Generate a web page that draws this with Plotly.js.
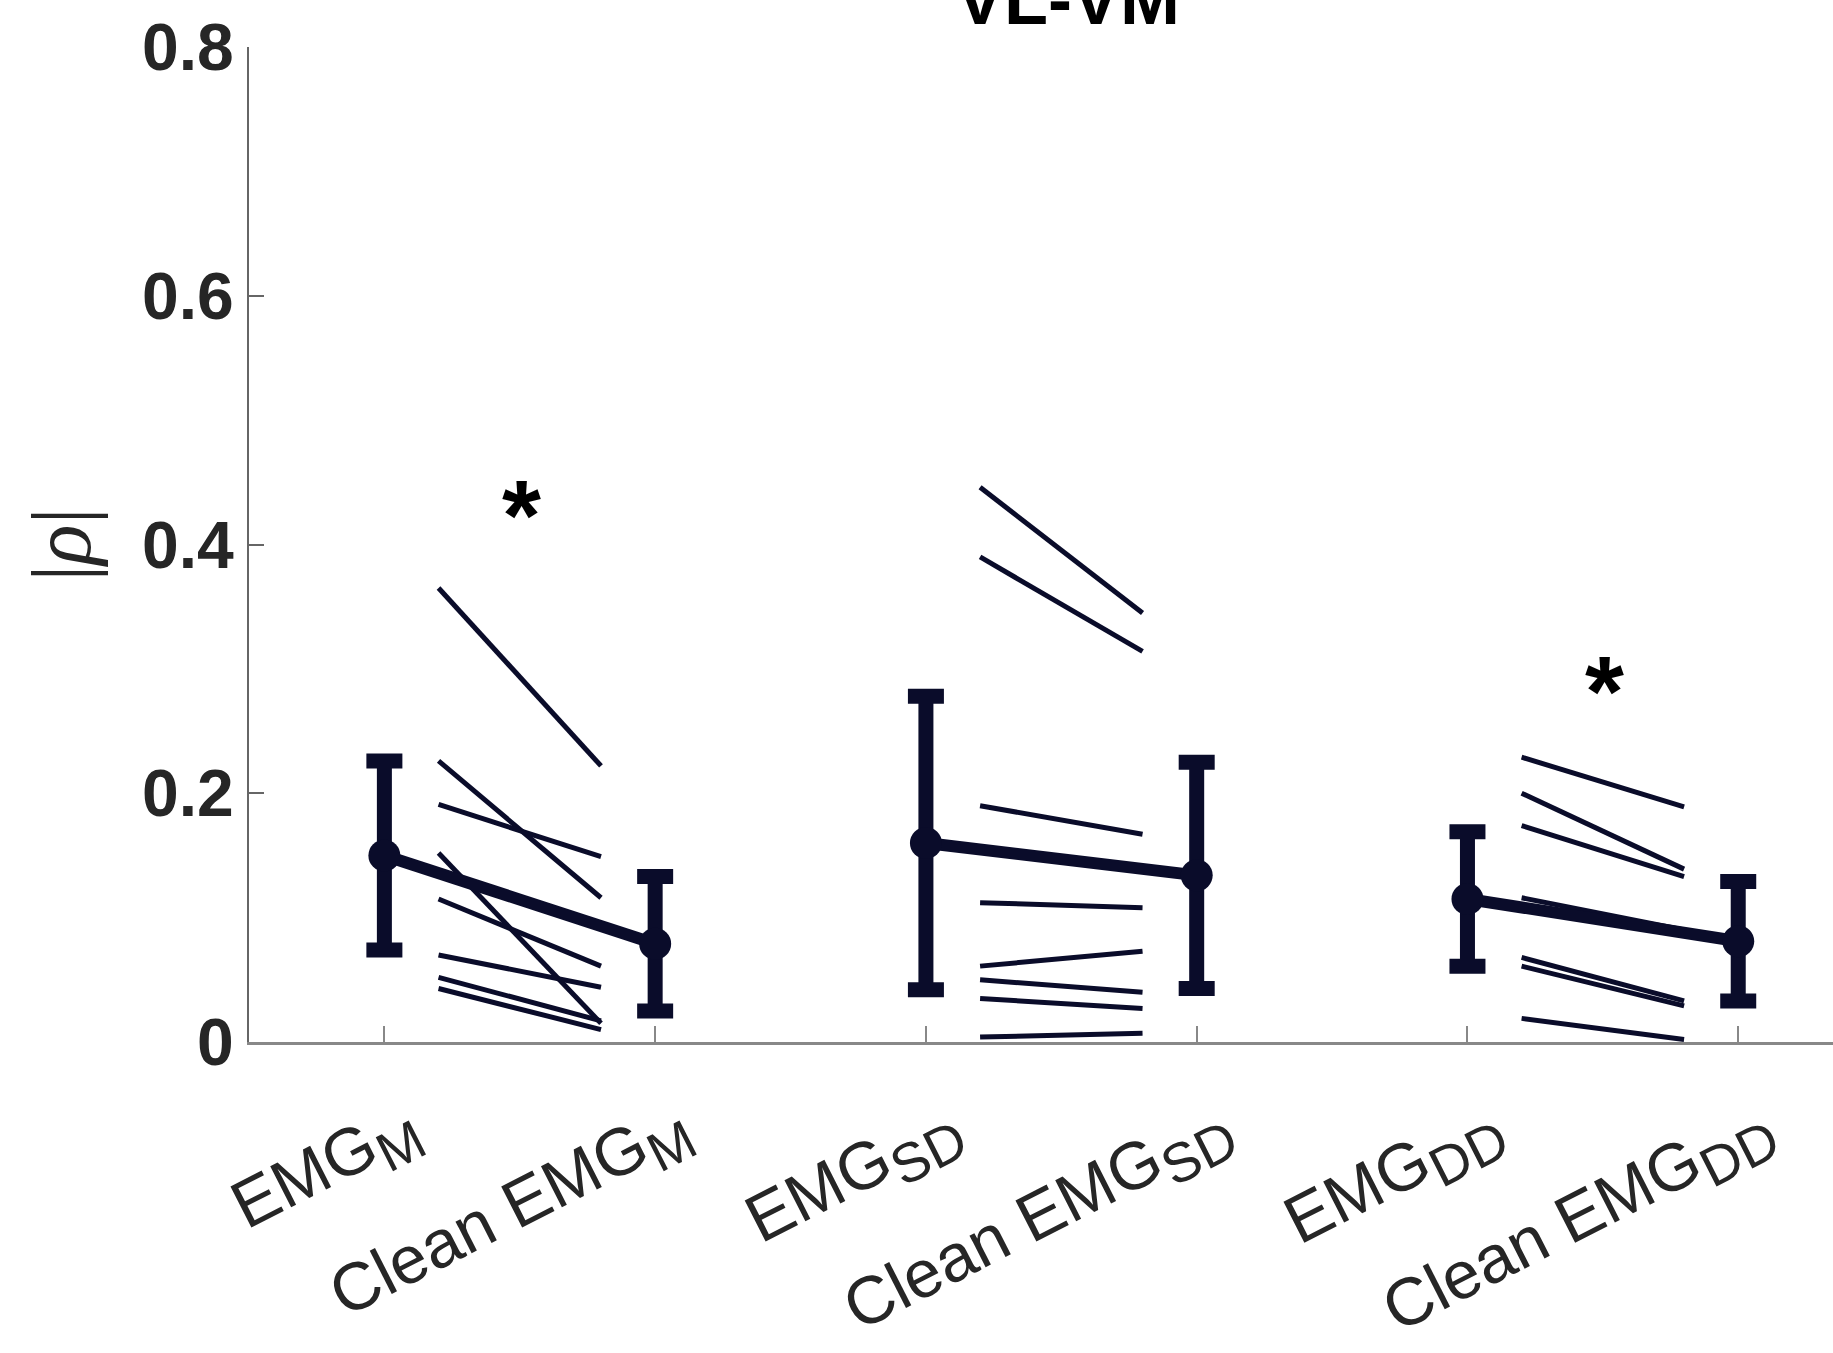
<!DOCTYPE html>
<html>
<head>
<meta charset="utf-8">
<script src="https://cdn.plot.ly/plotly-3.0.1.min.js"></script>
<style>
  html, body { margin: 0; padding: 0; background: #ffffff; overflow: hidden; }
  #chart { width: 1833px; height: 1353px; }
</style>
</head>
<body>
<div id="chart"></div>
<script>
// ---------- data ----------
var categories = [1, 2, 3, 4, 5, 6];
var labelMain = ["EMG", "Clean EMG", "EMG", "Clean EMG", "EMG", "Clean EMG"];
var labelSub  = ["M", "M", "SD", "SD", "DD", "DD"];

// group means and standard deviations (one value per category)
var meanValues = [0.150, 0.079, 0.160, 0.134, 0.115, 0.081];
var sdValues   = [0.076, 0.054, 0.118, 0.091, 0.054, 0.048];

// individual subjects: raw vs clean, per muscle group
var mRaw    = [0.365, 0.226, 0.191, 0.152, 0.115, 0.070, 0.052, 0.043];
var mClean  = [0.222, 0.116, 0.149, 0.015, 0.061, 0.044, 0.017, 0.010];
var sdRaw   = [0.446, 0.390, 0.190, 0.112, 0.061, 0.050, 0.035, 0.004];
var sdClean = [0.345, 0.314, 0.167, 0.108, 0.073, 0.040, 0.027, 0.007];
var ddRaw   = [0.229, 0.200, 0.174, 0.116, 0.068, 0.061, 0.019];
var ddClean = [0.189, 0.139, 0.133, 0.090, 0.033, 0.029, 0.002];

// significance markers
var starX = [1.5, 5.5];
var starY = [0.433, 0.292];

var yTickVals = [0, 0.2, 0.4, 0.6, 0.8];
var yTickText = ["0", "0.2", "0.4", "0.6", "0.8"];

// ---------- styling ----------
var navy = "rgb(10,12,42)";
var textGray = "#262626";

var tickLabels = labelMain.map(function (m, i) {
  return m + "<sub><span style='font-size:1.18em'>" + labelSub[i] + "</span></sub>";
});

var traces = [];

function addSubjects(raw, clean, leftCat) {
  for (var i = 0; i < raw.length; i++) {
    traces.push({
      type: "scatter", mode: "lines",
      x: [leftCat + 0.2, leftCat + 0.8],
      y: [raw[i], clean[i]],
      line: { color: navy, width: 5 },
      hoverinfo: "skip", showlegend: false
    });
  }
}
addSubjects(mRaw, mClean, 1);
addSubjects(sdRaw, sdClean, 3);
addSubjects(ddRaw, ddClean, 5);

for (var g = 0; g < 3; g++) {
  var idx = [2 * g, 2 * g + 1];
  traces.push({
    type: "scatter", mode: "lines+markers",
    x: idx.map(function (k) { return categories[k]; }),
    y: idx.map(function (k) { return meanValues[k]; }),
    line: { color: navy, width: 12 },
    marker: { color: navy, size: 32 },
    error_y: {
      type: "data", symmetric: true,
      array: idx.map(function (k) { return sdValues[k]; }),
      color: navy, thickness: 15, width: 18
    },
    showlegend: false
  });
}

var annotations = [];
for (var s = 0; s < starX.length; s++) {
  annotations.push({
    x: starX[s], y: starY[s], xref: "x", yref: "y",
    text: "<b>*</b>", showarrow: false,
    font: { family: "Liberation Sans, Arial, sans-serif", size: 100, color: "#000000" },
    yanchor: "middle", xanchor: "center", yshift: -12, xshift: 2
  });
}
// title (plot is cropped on the right, so it is placed in paper coords)
annotations.push({
  xref: "paper", yref: "paper", x: 0.517, y: 1,
  xanchor: "center", yanchor: "bottom", yshift: 6,
  text: "<b>VL-VM</b>", showarrow: false,
  font: { family: "Liberation Sans, Arial, sans-serif", size: 72, color: "#000000" }
});

var layout = {
  width: 1833, height: 1353,
  margin: { l: 249, r: 0, t: 47, b: 311 },
  paper_bgcolor: "#ffffff", plot_bgcolor: "#ffffff",
  showlegend: false,
  xaxis: {
    range: [0.5, 6.35],
    tickmode: "array", tickvals: categories, ticktext: tickLabels,
    tickangle: -27,
    ticks: "inside", ticklen: 16, tickwidth: 2, tickcolor: "#888888",
    showline: true, linecolor: "#888888", linewidth: 3,
    showgrid: false, zeroline: false,
    tickfont: { family: "Liberation Sans, Arial, sans-serif", size: 67, color: textGray },
    ticklabelstandoff: 18,
    ticklabelshift: 24
  },
  yaxis: {
    range: [0, 0.8],
    tickmode: "array", tickvals: yTickVals, ticktext: yTickText,
    ticks: "inside", ticklen: 15, tickwidth: 2, tickcolor: "#666666",
    showline: true, linecolor: "#666666", linewidth: 2,
    showgrid: false, zeroline: false,
    tickfont: { family: "Liberation Sans, Arial, sans-serif", size: 66, color: textGray, weight: "bold" },
    title: {
      text: "|<i>ρ</i>|",
      font: { family: "Liberation Serif, Times New Roman, serif", size: 84, color: textGray },
      standoff: 24
    }
  },
  annotations: annotations
};

Plotly.newPlot("chart", traces, layout, { displayModeBar: false, staticPlot: true });
</script>
</body>
</html>
